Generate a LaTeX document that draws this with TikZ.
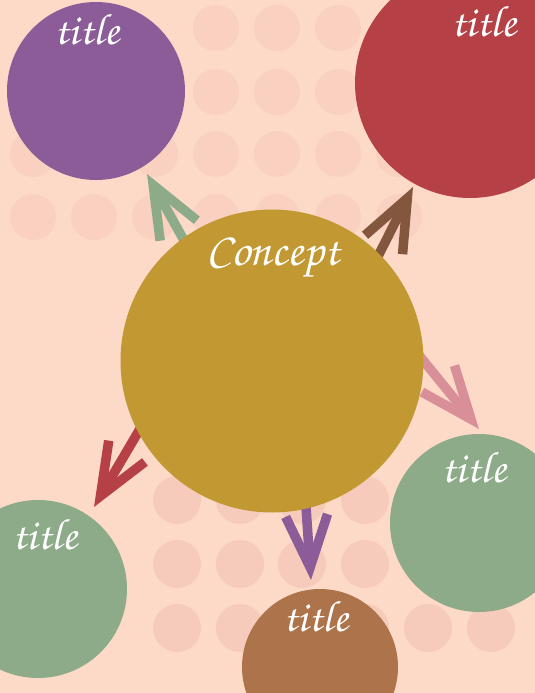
\documentclass[tikz,border=0pt]{standalone}
\usepackage{tikz}
\definecolor{peach}{RGB}{253, 218, 200}
\definecolor{dotpink}{RGB}{250, 209, 193}
\definecolor{dotrose}{RGB}{247, 203, 188}
\definecolor{goldish}{RGB}{194, 152, 50}
\definecolor{purplish}{RGB}{139, 92, 152}
\definecolor{reddish}{RGB}{181, 64, 69}
\definecolor{greenish}{RGB}{141, 171, 137}
\definecolor{brownish}{RGB}{173, 115, 75}
\definecolor{darkbrown}{RGB}{131, 86, 62}
\definecolor{pinkish}{RGB}{217, 143, 152}
\usetikzlibrary{arrows.meta,backgrounds}
\newcommand{\chancery}{\fontencoding{OT1}\fontfamily{pzc}\fontseries{m}\fontshape{it}\selectfont}
\tikzset{
  crc/.style = {circle, inner sep=0pt, draw=none},
  crc_main/.style = {crc, fill=goldish, minimum size=303pt},% big concept disc
  crc_sub/.style = {crc, minimum size=178pt},% small title discs
  ttl/.style = {text=white, inner sep=0pt,
    font=\chancery\fontsize{44}{44}\selectfont},
  ttl_main/.style = {ttl, font=\chancery\fontsize{47}{47}\selectfont},
  spoke/.style = {line width=9.5pt, shorten <=-12pt,
    -{Straight Barb[length=52pt, width=42pt]}},
}

\begin{document}
\begin{tikzpicture}[x=1pt, y=-1pt]
\useasboundingbox (0,0) rectangle (535,693);
\clip (0,0) rectangle (535,693);

\node [crc_main] (concept) at (272,361) {};
\node [crc_sub, fill=purplish] (purple) at (96,91) {};
\node [crc_sub, fill=reddish, minimum size=230pt] (red) at (470,83) {};
\node [crc_sub, fill=greenish] (greenR) at (479,523) {};
\node [crc_sub, fill=greenish] (greenL) at (38,589) {};
\node [crc_sub, fill=brownish, minimum size=156pt] (brown) at (320,667) {};

\coordinate (tipP) at (147,174);
\coordinate (tipR) at (413,187);
\coordinate (tipGR) at (479,429);
\coordinate (tipGL) at (94,507);
\coordinate (tipB) at (311,580);

\begin{scope}[on background layer]
  \fill [peach] (0,0) rectangle (535,693);
  % dots
  \foreach \x in {33,94,155,216,277,338,399}
    \foreach \y in {154,217}
      \fill [dotpink] (\x,\y) circle (23);
  \foreach \x in {216,277,338}
    \foreach \y in {28,92}
      \fill [dotpink] (\x,\y) circle (23);
  \foreach \x in {177,240,302,365,428,491}
    \foreach \y in {500,564,628}
      \fill [dotrose] (\x,\y) circle (24);
  % arrows
  \draw [spoke, greenish] (concept.126) -- (tipP);
  \draw [spoke, darkbrown] (concept.45) -- (tipR);
  \draw [spoke, pinkish] (concept.0) -- (tipGR);
  \draw [spoke, reddish] (concept.208) -- (tipGL);
  \draw [spoke, purplish] (concept.283) -- (tipB);
\end{scope}

\node [ttl_main] (conceptTxt) at (273,258) {Concept};
\node [ttl] (purpleTxt) at (87,29) {title};
\node [ttl] (redTxt) at (484,21) {title};
\node [ttl] (greenRTxt) at (474,467) {title};
\node [ttl] (greenLTxt) at (45,534) {title};
\node [ttl] (brownTxt) at (316,616) {title};
\end{tikzpicture}
\end{document}
